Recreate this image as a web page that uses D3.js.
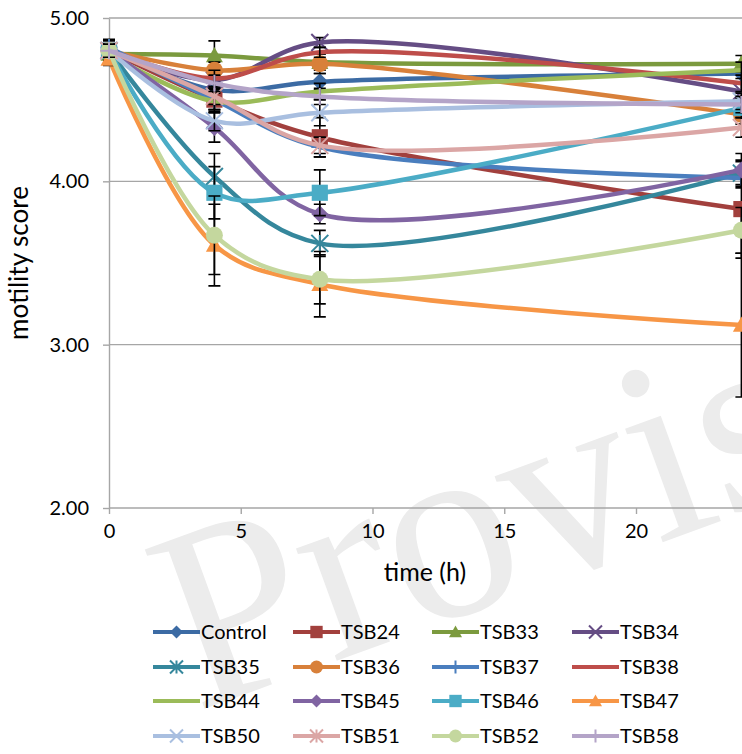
<!DOCTYPE html>
<html>
<head>
<meta charset="utf-8">
<script src="https://cdn.jsdelivr.net/npm/d3@7"></script>
<style>
  body { margin: 0; background: #fff; }
  text { font-family: Lato, "Open Sans", sans-serif; fill: #000; }
</style>
</head>
<body>
<div id="chart"></div>
<script>
// sampling times (h)
const times = [0, 4, 8, 24];
const xTicks = [0, 5, 10, 15, 20];
const yTicks = [2, 3, 4, 5];

// mean motility score per strain, and error bar half-lengths
const control = [4.81, 4.56, 4.61, 4.66];
const tsb24 = [4.80, 4.50, 4.27, 3.83];
const tsb33 = [4.78, 4.77, 4.73, 4.72];
const tsb34 = [4.80, 4.62, 4.85, 4.55];
const tsb35 = [4.80, 4.03, 3.62, 4.05];
const tsb36 = [4.80, 4.68, 4.72, 4.41];
const tsb37 = [4.82, 4.50, 4.21, 4.02];
const tsb38 = [4.80, 4.63, 4.79, 4.60];
const tsb44 = [4.78, 4.49, 4.55, 4.68];
const tsb45 = [4.80, 4.33, 3.80, 4.07];
const tsb46 = [4.80, 3.93, 3.93, 4.45];
const tsb47 = [4.75, 3.61, 3.37, 3.12];
const tsb50 = [4.80, 4.37, 4.42, 4.49];
const tsb51 = [4.80, 4.52, 4.22, 4.33];
const tsb52 = [4.80, 3.67, 3.40, 3.70];
const tsb58 = [4.80, 4.60, 4.52, 4.47];

const controlErr = [0.05, 0.05, 0.05, 0.06];
const tsb24Err = [0.04, 0.08, 0.12, 0.30];
const tsb33Err = [0.05, 0.09, 0.05, 0.05];
const tsb34Err = [0.04, 0.05, 0.03, 0.06];
const tsb35Err = [0.04, 0.14, 0.08, 0.07];
const tsb36Err = [0.04, 0.05, 0.06, 0.06];
const tsb37Err = [0.05, 0.06, 0.06, 0.06];
const tsb38Err = [0.04, 0.05, 0.03, 0.05];
const tsb44Err = [0.04, 0.05, 0.05, 0.05];
const tsb45Err = [0.04, 0.09, 0.06, 0.10];
const tsb46Err = [0.04, 0.16, 0.14, 0.06];
const tsb47Err = [0.04, 0.25, 0.20, 0.44];
const tsb50Err = [0.04, 0.06, 0.08, 0.05];
const tsb51Err = [0.04, 0.05, 0.05, 0.06];
const tsb52Err = [0.04, 0.24, 0.15, 0.14];
const tsb58Err = [0.04, 0.05, 0.05, 0.05];

const names = ['Control','TSB24','TSB33','TSB34','TSB35','TSB36','TSB37','TSB38',
               'TSB44','TSB45','TSB46','TSB47','TSB50','TSB51','TSB52','TSB58'];
const means = [control,tsb24,tsb33,tsb34,tsb35,tsb36,tsb37,tsb38,
               tsb44,tsb45,tsb46,tsb47,tsb50,tsb51,tsb52,tsb58];
const errs = [controlErr,tsb24Err,tsb33Err,tsb34Err,tsb35Err,tsb36Err,tsb37Err,tsb38Err,
              tsb44Err,tsb45Err,tsb46Err,tsb47Err,tsb50Err,tsb51Err,tsb52Err,tsb58Err];
const colors = ['#3c6ba4','#a2403d','#7b9a3e','#654d84','#35879c','#d8803a','#4a7ebe','#be4d4a',
                '#9bbb59','#8064a2','#4bacc6','#f79646','#a9bfe0','#dba6a5','#c4d79e','#b4a4c8'];
const markers = ['diamond','square','triangle','x','asterisk','circle','plus','none',
                 'none','diamond','square','triangle','x','asterisk','circle','plus'];

const W = 742, H = 754;
const svg = d3.select('#chart').append('svg').attr('width', W).attr('height', H);

// watermark
svg.append('text')
  .attr('transform', 'translate(196,712) rotate(-20)')
  .style('font-family', '"Liberation Serif", "DejaVu Serif", serif')
  .style('font-size', '260px')
  .style('fill', '#ececec')
  .text('Provis');

const x = d3.scaleLinear().domain([0, 24]).range([109, 741.4]);
const y = d3.scaleLinear().domain([2, 5]).range([508, 18]);

// gridlines
svg.append('g').selectAll('line').data(yTicks.filter(d => d > 2)).join('line')
  .attr('x1', 109).attr('x2', W).attr('y1', d => y(d)).attr('y2', d => y(d))
  .attr('stroke', '#a6a6a6').attr('stroke-width', 1.4);

const xAxis = svg.append('g').attr('transform', `translate(0,${y(2)})`)
  .call(d3.axisBottom(x).tickValues(xTicks).tickSize(6).tickPadding(10).tickSizeOuter(0));
xAxis.select('.domain').attr('d', `M109,0H${W}`);
const yAxis = svg.append('g').attr('transform', `translate(${x(0)},0)`)
  .call(d3.axisLeft(y).tickValues(yTicks).tickFormat(d3.format('.2f')).tickSize(6).tickPadding(14).tickSizeOuter(0));
[xAxis, yAxis].forEach(a => {
  a.select('.domain').attr('stroke', '#a6a6a6').attr('stroke-width', 1.4);
  a.selectAll('.tick line').attr('stroke', '#a6a6a6').attr('stroke-width', 1.4);
  a.selectAll('.tick text').style('font-size', '20px').style('font-family', 'Lato, sans-serif');
});

svg.append('text').attr('x', 425).attr('y', 581).attr('text-anchor', 'middle')
  .style('font-size', '25px').text('time (h)');
svg.append('text').attr('transform', `translate(28,${y(3.5)}) rotate(-90)`)
  .attr('text-anchor', 'middle').style('font-size', '26px').text('motility score');

function drawMarker(g, type, color, s) {
  const h = s / 2;
  if (type === 'none') return;
  if (type === 'diamond') g.append('path').attr('d', `M0,${-h}L${h},0L0,${h}L${-h},0Z`).attr('fill', color);
  else if (type === 'square') g.append('rect').attr('x', -h * 0.95).attr('y', -h * 0.95)
    .attr('width', s * 0.95).attr('height', s * 0.95).attr('fill', color);
  else if (type === 'triangle') g.append('path').attr('d', `M0,${-h}L${h},${h * 0.8}L${-h},${h * 0.8}Z`).attr('fill', color);
  else if (type === 'circle') g.append('circle').attr('r', h).attr('fill', color);
  else {
    let d = '';
    if (type === 'x' || type === 'asterisk') d += `M${-h},${-h}L${h},${h}M${-h},${h}L${h},${-h}`;
    if (type === 'asterisk') d += `M0,${-h}L0,${h}`;
    if (type === 'plus') d += `M0,${-h}L0,${h}M${-h},0L${h},0`;
    g.append('path').attr('d', d).attr('stroke', color).attr('stroke-width', 2).attr('fill', 'none');
  }
}

const line = d3.line().x((d, i) => x(times[i])).y(d => y(d)).curve(d3.curveCatmullRom.alpha(0.5));

const plot = svg.append('g');
names.forEach((name, k) => {
  const g = plot.append('g');
  g.append('path').datum(means[k]).attr('d', line)
    .attr('fill', 'none').attr('stroke', colors[k]).attr('stroke-width', 4.5);
  times.forEach((t, i) => {
    const cx = x(t), lo = y(means[k][i] - errs[k][i]), hi = y(means[k][i] + errs[k][i]);
    g.append('path').attr('d', `M${cx},${lo}V${hi}M${cx - 6},${lo}H${cx + 6}M${cx - 6},${hi}H${cx + 6}`)
      .attr('stroke', '#000').attr('stroke-width', 1.6).attr('fill', 'none');
  });
  times.forEach((t, i) => {
    drawMarker(g.append('g').attr('transform', `translate(${x(t)},${y(means[k][i])})`), markers[k], colors[k], 17);
  });
});

// legend
const colX = [153, 293, 432, 572], rowY = [632, 667, 701, 736];
names.forEach((name, k) => {
  const lg = svg.append('g').attr('transform', `translate(${colX[k % 4]},${rowY[Math.floor(k / 4)]})`);
  lg.append('line').attr('x1', 0).attr('x2', 47).attr('stroke', colors[k]).attr('stroke-width', 4);
  drawMarker(lg.append('g').attr('transform', 'translate(23.5,0)'), markers[k], colors[k], 13);
  lg.append('text').attr('x', 48).attr('dy', '0.35em').style('font-size', '20px').text(name);
});
</script>
</body>
</html>
